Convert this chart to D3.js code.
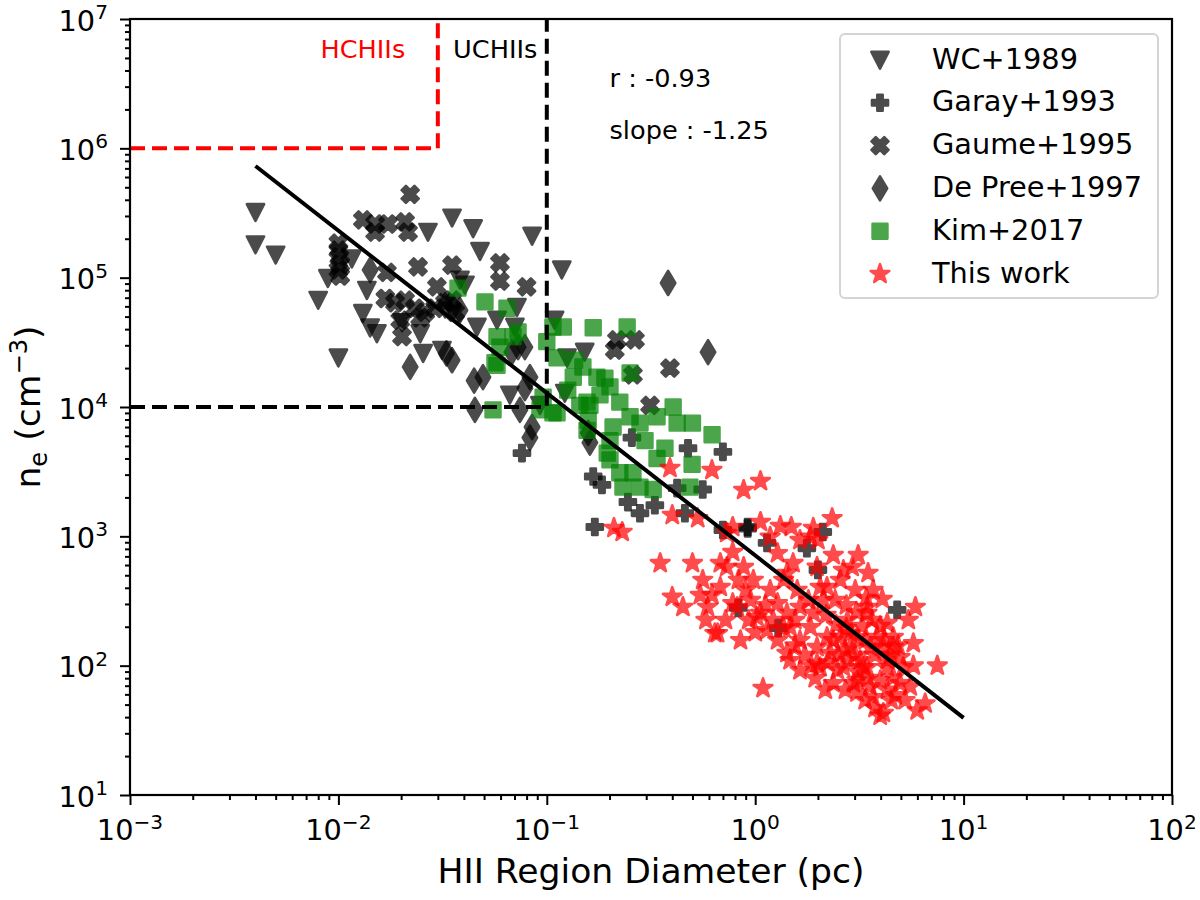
<!DOCTYPE html>
<html>
<head>
<meta charset="utf-8">
<script src="https://cdn.jsdelivr.net/npm/d3@7"></script>
<style>
  body { margin: 0; background: #fff; }
  svg { display: block; font-family: "DejaVu Sans", sans-serif; }
</style>
</head>
<body>
<div id="chart"></div>
<script>
// [diameter (pc), n_e (cm^-3)]
const wc1989 = [
  [0.0040, 3.2e5], [0.0040, 1.8e5], [0.0050, 1.5e5], [0.0080, 6.7e4], [0.0089, 9.9e4],
  [0.010, 2.4e4], [0.0116, 1.4e5], [0.0131, 5.3e4], [0.0142, 4.1e4], [0.0153, 3.7e4],
  [0.0137, 8.0e4], [0.0202, 4.5e4], [0.0247, 3.7e4], [0.0255, 2.6e4], [0.0314, 2.75e4],
  [0.0269, 2.25e5], [0.0351, 2.9e5], [0.0443, 2.4e5], [0.0478, 1.6e5], [0.0383, 9.6e4],
  [0.0405, 8.8e4], [0.0462, 4.15e4], [0.0577, 4.7e4], [0.0703, 4.15e4], [0.0719, 5.9e4],
  [0.085, 2.1e5], [0.118, 1.15e5], [0.109, 4.7e4], [0.125, 2.4e4], [0.122, 1.28e4],
  [0.0927, 1.03e4], [0.0665, 1.24e4], [0.152, 2.66e4]
];

const garay1993 = [
  [0.076, 4.4e3], [0.167, 2.9e3], [0.184, 2.5e3], [0.170, 1.18e3], [0.245, 1.84e3],
  [0.280, 1.51e3], [0.330, 1.74e3], [0.256, 5.8e3], [0.422, 2.36e3], [0.46, 1.51e3],
  [0.476, 4.8e3], [0.56, 2.3e3], [0.70, 4.5e3], [0.70, 1.12e3], [0.92, 1.18e3],
  [0.92, 1.15e3], [1.14, 890], [1.77, 810], [2.11, 1.08e3], [2.0, 550],
  [0.83, 280], [1.29, 195], [4.8, 270]
];

const gaume1995 = [
  [0.0221, 4.4e5], [0.0131, 2.8e5], [0.0150, 2.6e5], [0.0150, 2.25e5], [0.0173, 2.6e5],
  [0.0209, 2.7e5], [0.0216, 2.25e5], [0.0100, 1.85e5], [0.0100, 1.63e5], [0.0101, 1.44e5],
  [0.0102, 1.27e5], [0.0100, 1.15e5], [0.0102, 1.03e5], [0.0241, 1.21e5], [0.0351, 1.25e5],
  [0.0596, 1.3e5], [0.0596, 9.4e4], [0.080, 8.5e4], [0.0297, 8.5e4], [0.0171, 1.1e5],
  [0.0202, 3.5e4], [0.217, 3.3e4], [0.265, 3.3e4], [0.212, 2.75e4], [0.390, 2.0e4],
  [0.313, 1.03e4], [0.259, 1.77e4], [0.0168, 6.9e4], [0.0187, 6.4e4], [0.0209, 6.7e4],
  [0.0233, 5.8e4], [0.0261, 5.4e4], [0.0291, 5.8e4], [0.0325, 6.4e4], [0.0351, 6.7e4],
  [0.0247, 4.9e4], [0.0198, 4.7e4], [0.0363, 5.4e4]
];

const depree1997 = [
  [0.0142, 1.15e5], [0.0221, 2.04e4], [0.0351, 2.3e4], [0.0448, 1.6e4], [0.0494, 1.7e4],
  [0.0452, 9.5e3], [0.0355, 5.9e4], [0.083, 1.7e4], [0.085, 7.0e3], [0.083, 5.8e3],
  [0.0743, 9.5e3], [0.0728, 2.9e4], [0.0785, 2.9e4], [0.068, 2.66e4], [0.382, 9.1e4],
  [0.594, 2.66e4], [0.158, 6.3e3], [0.161, 5.3e3], [0.0325, 6.1e4], [0.0383, 5.6e4],
  [0.0785, 1.4e4], [0.033, 2.6e4]
];

const kim2017 = [
  [0.0375, 8.3e4], [0.0505, 6.5e4], [0.0644, 5.8e4], [0.0728, 3.8e4], [0.0577, 3.5e4],
  [0.0596, 2.9e4], [0.0577, 2.1e4], [0.100, 3.2e4], [0.120, 4.15e4], [0.167, 4.1e4],
  [0.243, 4.15e4], [0.112, 2.4e4], [0.136, 2.3e4], [0.149, 2.04e4], [0.174, 1.7e4],
  [0.190, 1.67e4], [0.134, 1.7e4], [0.251, 1.83e4], [0.201, 1.43e4], [0.156, 1.09e4],
  [0.144, 1.03e4], [0.161, 1.03e4], [0.224, 1.09e4], [0.112, 9.0e3], [0.251, 8.4e3],
  [0.280, 7.5e3], [0.338, 8.4e3], [0.404, 1.0e4], [0.422, 7.5e3], [0.50, 7.5e3],
  [0.621, 6.1e3], [0.158, 7.9e3], [0.156, 6.6e3], [0.208, 7.0e3], [0.201, 5.5e3],
  [0.195, 4.4e3], [0.201, 3.9e3], [0.224, 3.1e3], [0.259, 3.1e3], [0.232, 2.4e3],
  [0.280, 2.4e3], [0.324, 2.3e3], [0.338, 4.0e3], [0.498, 3.6e3], [0.486, 2.4e3],
  [0.0552, 9.5e3], [0.0927, 9.5e3], [0.107, 4.15e4], [0.0689, 3.5e4], [0.096, 1.19e4],
  [0.126, 1.35e4], [0.180, 1.24e4], [0.296, 5.5e3], [0.369, 4.8e3], [0.0564, 2.2e4],
  [0.107, 9.0e3]
];

const thisWork = [
  [0.23, 1080], [0.21, 1160], [0.39, 3370], [0.62, 3250], [0.88, 2280], [1.06, 2670],
  [0.40, 1460], [0.53, 1380], [0.35, 620], [0.40, 340], [0.45, 284], [0.78, 1180],
  [1.06, 1290], [1.32, 1200], [1.49, 1180], [1.90, 1160], [2.34, 1380], [2.0, 935],
  [1.64, 935], [1.84, 990], [1.18, 990], [0.78, 755], [1.28, 740], [1.52, 620],
  [1.98, 580], [2.37, 715], [3.12, 715], [2.92, 578], [2.65, 548], [3.48, 520],
  [2.56, 459], [2.21, 405], [3.68, 384], [4.07, 327], [5.87, 284], [5.43, 225],
  [5.74, 149], [7.48, 100], [5.74, 100], [6.54, 51], [5.99, 45], [4.12, 43],
  [3.68, 57], [2.37, 73], [2.96, 73], [1.09, 67], [0.64, 178], [0.58, 225],
  [0.56, 459], [0.50, 620], [0.68, 620], [0.68, 405], [0.73, 578], [0.88, 578],
  [0.98, 459], [0.73, 1060], [0.545, 351], [0.59, 284], [0.66, 178], [0.78, 304],
  [0.82, 284], [0.95, 321], [1.06, 255], [1.0, 181], [1.02, 237], [1.28, 157],
  [1.42, 125], [1.47, 198], [1.64, 284], [1.84, 198], [1.98, 139], [2.29, 125],
  [2.65, 97], [3.08, 77], [3.44, 97], [3.98, 77], [4.60, 81], [4.96, 116],
  [4.12, 139], [3.08, 166], [2.77, 225], [1.42, 520], [1.18, 384], [1.37, 459],
  [1.59, 384], [2.05, 405], [3.44, 284], [3.44, 255], [4.30, 213], [4.60, 166],
  [3.85, 166], [2.86, 139], [2.56, 166], [2.21, 166], [1.90, 255], [1.28, 304],
  [1.42, 255], [1.14, 188], [1.64, 157], [2.37, 157], [2.86, 178], [2.05, 97],
  [2.48, 92], [3.19, 110], [3.56, 139], [4.30, 110], [5.13, 97], [4.30, 65],
  [4.96, 73], [3.56, 69], [3.08, 62], [4.60, 139], [4.30, 97], [3.30, 97],
  [1.98, 104], [1.86, 100], [3.98, 41], [5.55, 69], [4.5, 54],
  [2.71, 132], [3.02, 121], [3.37, 157], [3.76, 121], [2.80, 110], [3.12, 89],
  [3.48, 80], [2.50, 121], [2.24, 106], [2.74, 195], [3.26, 202], [3.64, 225],
  [3.98, 202], [4.16, 157], [4.45, 121], [4.85, 143], [2.45, 206], [2.19, 246],
  [2.74, 293], [3.06, 260], [3.41, 333], [3.02, 384], [2.42, 321], [2.12, 321],
  [1.80, 321], [1.55, 225], [1.73, 121], [1.55, 143], [1.37, 195], [1.22, 225],
  [1.47, 110], [1.64, 92], [1.94, 80], [2.17, 65], [2.71, 65], [3.37, 54],
  [3.76, 47], [4.70, 59], [5.24, 54], [0.62, 351], [0.72, 225], [0.90, 384],
  [0.83, 459], [1.12, 293], [0.93, 225], [0.85, 157]
];

// fitted relation and region boundaries
const fitLine = [[0.004, 7.3e5], [10, 39.5]];
const hcBoundary = [[1e-3, 1e6], [0.03, 1e6], [0.03, 1e7]];
const ucBoundary = [[1e-3, 1e4], [0.1, 1e4], [0.1, 1e7]];

const xMajor = [1e-3, 1e-2, 1e-1, 1, 10, 100];
const yMajor = [1e1, 1e2, 1e3, 1e4, 1e5, 1e6, 1e7];

const margin = { top: 19, right: 28, bottom: 105, left: 130 };
const width = 1200 - margin.left - margin.right;
const height = 900 - margin.top - margin.bottom;

// marker shapes (size = half extent in px)
function poly(c, pts) {
    pts.forEach(([px, py], i) => i ? c.lineTo(px, py) : c.moveTo(px, py));
    c.closePath();
}
function plusPts(r) {
    const a = r / 3;
    return [[-a, -r], [a, -r], [a, -a], [r, -a], [r, a], [a, a], [a, r], [-a, r], [-a, a], [-r, a], [-r, -a], [-a, -a]];
}
const triDown = { draw(c, r) { poly(c, [[0, r], [-r, -r * 0.95], [r, -r * 0.95]]); } };
const plusFilled = { draw(c, r) { poly(c, plusPts(r)); } };
const xFilled = { draw(c, r) { const k = Math.SQRT1_2; poly(c, plusPts(r).map(([px, py]) => [(px - py) * k, (px + py) * k])); } };
const thinDiamond = { draw(c, r) { poly(c, [[0, -r], [r * 0.6, 0], [0, r], [-r * 0.6, 0]]); } };
const squareM = { draw(c, r) { poly(c, [[-r, -r], [r, -r], [r, r], [-r, r]]); } };
const starM = {
    draw(c, r) {
        const pts = [];
        for (let i = 0; i < 10; i++) {
            const rr = i % 2 ? r * 0.382 : r;
            const ang = -Math.PI / 2 + i * Math.PI / 5;
            pts.push([rr * Math.cos(ang), rr * Math.sin(ang)]);
        }
        poly(c, pts);
    }
};

const series = [
    { label: "WC+1989", data: wc1989, symbol: triDown, size: 8.6, color: "black" },
    { label: "Garay+1993", data: garay1993, symbol: plusFilled, size: 8, color: "black" },
    { label: "Gaume+1995", data: gaume1995, symbol: xFilled, size: 9, color: "black" },
    { label: "De Pree+1997", data: depree1997, symbol: thinDiamond, size: 12, color: "black" },
    { label: "Kim+2017", data: kim2017, symbol: squareM, size: 7.4, color: "green" },
    { label: "This work", data: thisWork, symbol: starM, size: 9.8, color: "red" }
];

const svg = d3.select("#chart").append("svg")
    .attr("width", 1200)
    .attr("height", 900);

const g = svg.append("g")
    .attr("transform", `translate(${margin.left},${margin.top})`);

const x = d3.scaleLog().domain([1e-3, 1e2]).range([0, width]);
const y = d3.scaleLog().domain([1e1, 1e7]).range([height, 0]);

function styleMarker(sel, s) {
    sel.attr("d", d3.symbol(s.symbol, s.size))
        .attr("fill", s.color)
        .attr("stroke", s.color)
        .attr("stroke-width", 2.6)
        .attr("stroke-linejoin", "round")
        .attr("opacity", 0.7);
}

// scatter
series.forEach(s => {
    g.append("g")
        .selectAll("path")
        .data(s.data)
        .join("path")
        .attr("transform", d => `translate(${x(d[0])},${y(d[1])})`)
        .call(styleMarker, s);
});

// boundaries and fit
const line = d3.line().x(d => x(d[0])).y(d => y(d[1]));

g.append("path").datum(hcBoundary)
    .attr("d", line).attr("fill", "none")
    .attr("stroke", "red").attr("stroke-width", 4)
    .attr("stroke-dasharray", "15,7");

g.append("path").datum(ucBoundary)
    .attr("d", line).attr("fill", "none")
    .attr("stroke", "black").attr("stroke-width", 4)
    .attr("stroke-dasharray", "15,7");

g.append("path").datum(fitLine)
    .attr("d", line).attr("fill", "none")
    .attr("stroke", "black").attr("stroke-width", 4);

// axes
const isMajor = v => Math.abs(Math.log10(v) - Math.round(Math.log10(v))) < 1e-9;
const xMinor = x.ticks().filter(v => !isMajor(v));
const yMinor = y.ticks().filter(v => !isMajor(v));

function tickAxis(axis, values, size) {
    return a => {
        a.call(axis.tickValues(values).tickSize(size).tickSizeOuter(0).tickFormat(""));
        a.select(".domain").remove();
        a.selectAll("line").attr("stroke", "black").attr("stroke-width", 2);
    };
}

g.append("g").attr("transform", `translate(0,${height})`).call(tickAxis(d3.axisBottom(x), xMajor, 10));
g.append("g").attr("transform", `translate(0,${height})`).call(tickAxis(d3.axisBottom(x), xMinor, 5));
g.append("g").call(tickAxis(d3.axisLeft(y), yMajor, 10));
g.append("g").call(tickAxis(d3.axisLeft(y), yMinor, 5));

g.append("rect")
    .attr("width", width).attr("height", height)
    .attr("fill", "none").attr("stroke", "black").attr("stroke-width", 2.2);

const expText = v => {
    const e = Math.round(Math.log10(v));
    return e < 0 ? "\u2212" + (-e) : String(e);
};

function powerLabel(t, v) {
    t.append("tspan").text("10");
    t.append("tspan").attr("font-size", "70%").attr("dy", -11.5).text(expText(v));
}

g.append("g").selectAll("text")
    .data(xMajor).join("text")
    .attr("x", d => x(d)).attr("y", height + 45)
    .attr("text-anchor", "middle").attr("font-size", 28.8)
    .each(function (d) { powerLabel(d3.select(this), d); });

g.append("g").selectAll("text")
    .data(yMajor).join("text")
    .attr("x", -22).attr("y", d => y(d) + 11.5)
    .attr("text-anchor", "end").attr("font-size", 28.8)
    .each(function (d) { powerLabel(d3.select(this), d); });

// axis titles
g.append("text")
    .attr("x", width / 2).attr("y", height + 88)
    .attr("text-anchor", "middle").attr("font-size", 34.6)
    .text("HII Region Diameter (pc)");

const yTitle = g.append("text")
    .attr("transform", `translate(-90,${height / 2}) rotate(-90)`)
    .attr("text-anchor", "middle").attr("font-size", 34.6);
yTitle.append("tspan").text("n");
yTitle.append("tspan").attr("font-size", "70%").attr("dy", 7).text("e");
yTitle.append("tspan").attr("dy", -7).text(" (cm");
yTitle.append("tspan").attr("font-size", "70%").attr("dy", -13).text("\u22123");
yTitle.append("tspan").attr("dy", 13).text(")");

// annotations
g.append("text").attr("x", x(0.0082)).attr("y", y(5e6))
    .attr("font-size", 25.6).attr("fill", "red").text("HCHIIs");
g.append("text").attr("x", x(0.0355)).attr("y", y(5e6))
    .attr("font-size", 25.6).attr("fill", "black").text("UCHIIs");
g.append("text").attr("x", x(0.2)).attr("y", y(3e6))
    .attr("font-size", 25.6).text("r : -0.93");
g.append("text").attr("x", x(0.2)).attr("y", y(1.18e6))
    .attr("font-size", 25.6).text("slope : -1.25");

// legend
const legend = svg.append("g").attr("transform", "translate(840,34)");
legend.append("rect")
    .attr("width", 318).attr("height", 264).attr("rx", 5)
    .attr("fill", "white").attr("fill-opacity", 0.8)
    .attr("stroke", "#d4d4d4").attr("stroke-width", 2);

series.forEach((s, i) => {
    const ly = 26 + i * 42.8;
    legend.append("path")
        .attr("transform", `translate(40,${ly})`)
        .call(styleMarker, s);
    legend.append("text")
        .attr("x", 92).attr("y", ly + 8.5)
        .attr("font-size", 28.8)
        .text(s.label);
});
</script>
</body>
</html>
